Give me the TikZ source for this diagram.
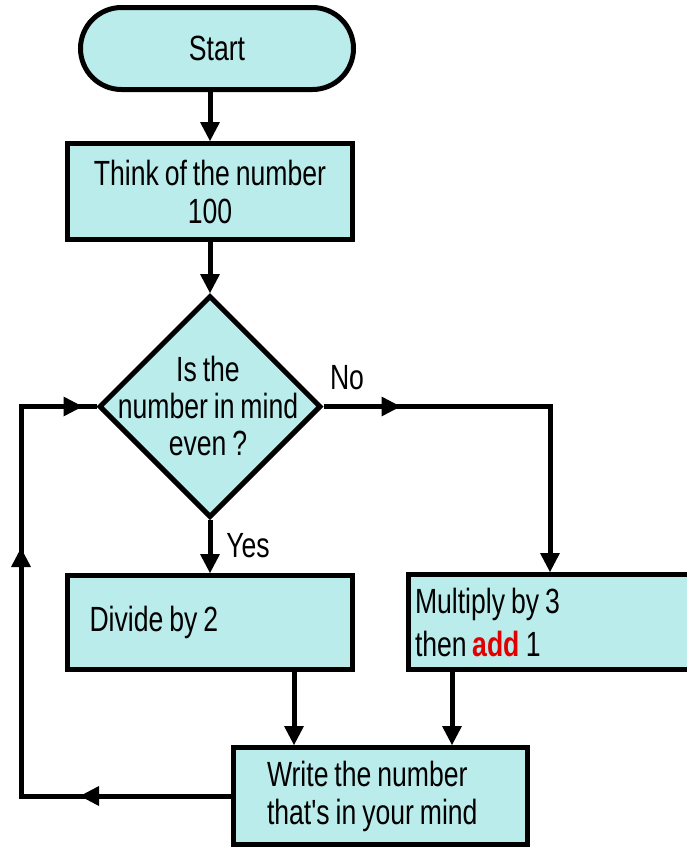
\documentclass[tikz,border=0pt]{standalone}
\usepackage{fontspec}
\setmainfont{Liberation Sans}[FakeStretch=0.76, WordSpace=0.8, Ligatures=TeXOff]
\usetikzlibrary{arrows.meta,shapes.geometric,decorations.markings}
\definecolor{boxfill}{RGB}{186,236,236}
\definecolor{addred}{RGB}{225,0,0}
\newcommand\natsp{\spaceskip=0pt\xspaceskip=0pt\relax}
\begin{document}
\begin{tikzpicture}[x=1pt,y=-1pt,
  every node/.style={font=\fontsize{35}{38}\selectfont},
  box/.style={draw, line width=5pt, fill=boxfill, inner sep=0pt},
  tip/.tip={Triangle[width=20pt,length=19pt,line width=0pt]},
  flow/.style={line width=5pt, -tip},
  wire/.style={line width=5pt},
  mid1/.style={postaction={decorate}, decoration={markings, mark=at position #1 with {\arrow{tip}}}},
]
\clip (0,0) rectangle (687,847);
% nodes
\node[box, rounded corners=41pt, minimum width=273pt, minimum height=82pt] (start) at (217,48.5) {Start};
\node[box, minimum width=285pt, minimum height=96pt, align=center] (think) at (210,191.5) {Think of the number\\100};
\node[box, diamond, minimum width=222pt, minimum height=222pt] (dec) at (210,406.5) {};
\node[align=center, font=\fontsize{35}{37}\selectfont] (dectext) at (208,406) {Is the\\number in mind\\even ?};
\node (yes) at (248,546) {Yes};
\node (no) at (347,378) {No};
\node[box, text width=241pt, inner xsep=22pt, minimum height=94pt, align=left] (divide) at (210,622.5) {\natsp Divide by 2};
\node[box, text width=298pt, inner xsep=6.5pt, minimum height=95pt, align=left, font=\fontsize{35}{43}\selectfont] (mult) at (564,622) {\natsp Multiply by 3\\then {\bfseries\color{addred}add} 1};
\node[box, text width=227pt, inner xsep=33.5pt, minimum height=97pt, align=left] (write) at (380.5,796) {\natsp Write the number\\that's in your mind};
\coordinate (nocorner) at (550,0 |- dec.east);
\coordinate (loopbot) at (21,0 |- write.west);
\coordinate (looptop) at (21,0 |- dec.west);
% connectors
\draw[flow] (start.south -| think.north) -- (think.north);
\draw[flow] (think.south) -- (dec.north);
\draw[flow] (dec.south) -- (divide.north);
\draw[flow, mid1=77pt] (dec.east) -- (nocorner) -- (nocorner |- mult.north);
\draw[flow] (294,0 |- divide.south) -- (294,0 |- write.north);
\draw[flow] (452,0 |- mult.south) -- (452,0 |- write.north);
\draw[wire, postaction={decorate}, decoration={markings,
    mark=at position 151pt with {\arrow{tip}},
    mark=at position 458pt with {\arrow{tip}},
    mark=at position 661pt with {\arrow{tip}}}]
  (write.west) -- (loopbot) -- (looptop) -- (dec.west);
\end{tikzpicture}
\end{document}
